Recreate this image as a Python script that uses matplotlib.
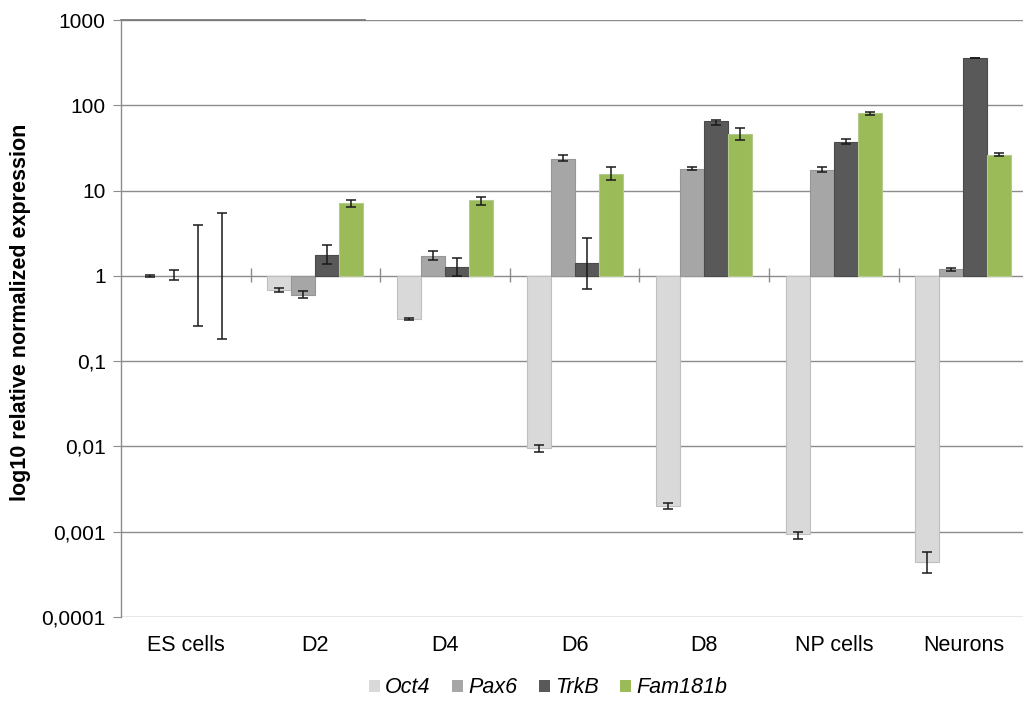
import matplotlib.pyplot as plt
import matplotlib.transforms as mtransforms
import numpy as np

plt.rcParams['font.family'] = ['Liberation Sans', 'DejaVu Sans']

stages = ['ES cells', 'D2', 'D4', 'D6', 'D8', 'NP cells', 'Neurons']
genes = ['Oct4', 'Pax6', 'TrkB', 'Fam181b']
colors = ['#d9d9d9', '#a6a6a6', '#595959', '#9bbb59']
edges = ['#bfbfbf', '#969696', '#4a4a4a', '#b5c98f']

# relative expression (ES cells = 1) and error bar limits
oct4 = [1.0, 0.685, 0.31, 0.0096, 0.0020, 0.00093, 0.00044]
oct4_lo = [0.98, 0.64, 0.30, 0.0087, 0.00183, 0.00083, 0.00033]
oct4_hi = [1.02, 0.72, 0.32, 0.0105, 0.00218, 0.00100, 0.00058]

pax6 = [1.0, 0.60, 1.70, 23.5, 18.0, 17.5, 1.19]
pax6_lo = [0.90, 0.55, 1.53, 22.1, 17.2, 16.4, 1.14]
pax6_hi = [1.18, 0.67, 1.95, 26.0, 18.8, 18.8, 1.23]

trkb = [1.0, 1.76, 1.26, 1.42, 64.6, 36.9, 357.0]
trkb_lo = [0.26, 1.37, 1.0, 0.70, 59.0, 35.3, 354.0]
trkb_hi = [3.9, 2.33, 1.64, 2.8, 68.0, 39.9, 361.0]

fam181b = [1.0, 7.1, 7.7, 15.7, 45.8, 80.8, 26.0]
fam181b_lo = [0.184, 6.5, 6.8, 13.2, 39.6, 77.0, 25.1]
fam181b_hi = [5.5, 7.8, 8.4, 18.8, 54.7, 84.0, 27.9]

series = [(oct4, oct4_lo, oct4_hi), (pax6, pax6_lo, pax6_hi),
          (trkb, trkb_lo, trkb_hi), (fam181b, fam181b_lo, fam181b_hi)]

fig = plt.figure(figsize=(10.23, 7.04), dpi=100)
ax = fig.add_axes([121 / 1023, 87 / 704, 1 - 121 / 1023, (617 - 20) / 704])

grid_c = '#8c8c8c'
ax.set_yscale('log')
ax.set_ylim(1e-4, 1e3)
ax.set_xlim(-0.5, -0.5 + (1023 - 121) / 129.6)

for d in [1e-4, 1e-3, 1e-2, 1e-1, 1, 10, 100, 1000]:
    ax.axhline(d, color=grid_c, lw=1.0, zorder=0)
# darker stub on the top gridline
ax.plot([-0.5, 1.38], [1000, 1000], color='#7a7a7a', lw=1.3, zorder=1,
        clip_on=False)

x = np.arange(len(stages))
w = 24 / 129.6
for i, (vals, lo, hi) in enumerate(series):
    vals = np.array(vals)
    pos = x + (i - 1.5) * w
    # no outline where the bar has zero height
    lws = np.where(vals == 1.0, 0.0, 0.8)
    ax.bar(pos, vals - 1, bottom=1, width=w, color=colors[i],
           edgecolor=edges[i], linewidth=lws, label=genes[i], zorder=2)
    yerr = [vals - np.array(lo), np.array(hi) - vals]
    ax.errorbar(pos, vals, yerr=yerr, fmt='none', ecolor='#1a1a1a',
                elinewidth=1.1, capsize=3.3, capthick=1.1, zorder=3)

# category separators crossing the baseline at 1
ax.vlines(np.arange(0.5, 6.5, 1), 0.84, 1.24, color=grid_c, lw=1.0, zorder=1)

for s in ['top', 'right', 'bottom']:
    ax.spines[s].set_visible(False)
ax.spines['left'].set_color(grid_c)
ax.spines['left'].set_linewidth(1.0)

ax.set_yticks([1e-4, 1e-3, 1e-2, 1e-1, 1, 10, 100, 1000])
ax.set_yticklabels(['0,0001', '0,001', '0,01', '0,1', '1', '10', '100', '1000'])
ax.yaxis.set_minor_locator(plt.NullLocator())
ax.tick_params(axis='y', length=6, color=grid_c, labelsize=15, pad=5)
ax.set_xticks([])

trans = mtransforms.blended_transform_factory(ax.transData, ax.transAxes)
for xi, name in zip(x, stages):
    ax.text(xi, -0.047, name, transform=trans, ha='center', va='center',
            fontsize=15.5)

fig.text(0.02, 0.557, 'log10 relative normalized expression',
         rotation=90, ha='center', va='center', fontsize=15.5,
         fontweight='bold')

leg = fig.legend(loc='center', bbox_to_anchor=(0.536, 0.023), ncol=4,
                 frameon=False, handlelength=0.5, handleheight=0.5,
                 handletextpad=0.25, columnspacing=1.0, fontsize=15.5)
for t in leg.get_texts():
    t.set_style('italic')

fig.savefig('out.png', dpi=100)
